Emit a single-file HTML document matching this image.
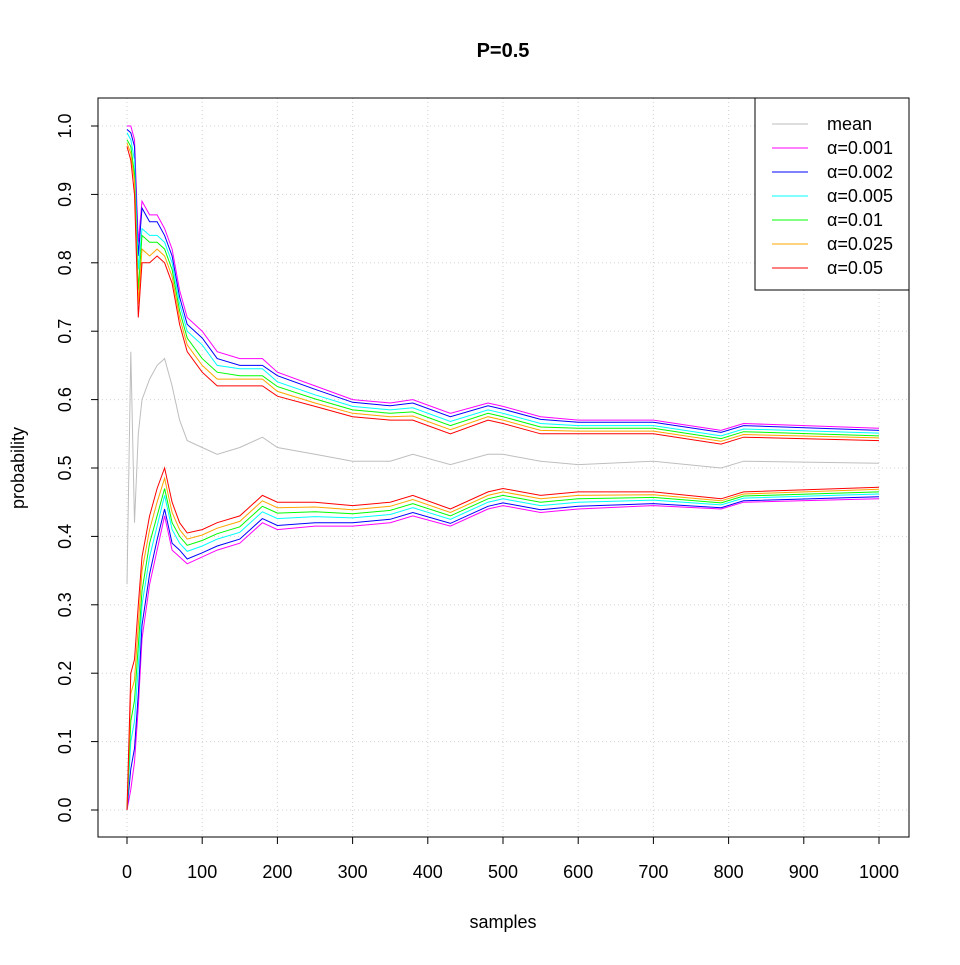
<!DOCTYPE html>
<html><head><meta charset="utf-8"><style>
body{margin:0;background:#fff}
svg{font-family:"Liberation Sans",sans-serif}
</style></head><body>
<svg id="chart" width="960" height="960" viewBox="0 0 960 960" xmlns="http://www.w3.org/2000/svg">
<rect width="960" height="960" fill="#fff"/>
<text x="503" y="57" text-anchor="middle" font-size="20" font-weight="bold">P=0.5</text>
<g id="grid"></g>
<g id="series"></g>
<rect x="98" y="98" width="811" height="739" fill="none" stroke="#000" stroke-width="1"/>
<g id="axes"></g>
<text x="503" y="928" text-anchor="middle" font-size="18">samples</text>
<text transform="translate(24,468) rotate(-90)" text-anchor="middle" font-size="18">probability</text>
<g id="legend"></g>
</svg>
<script>
const xTicks=[0,100,200,300,400,500,600,700,800,900,1000];
const yTicks=[0.0,0.1,0.2,0.3,0.4,0.5,0.6,0.7,0.8,0.9,1.0];
const yTickLabels=["0.0","0.1","0.2","0.3","0.4","0.5","0.6","0.7","0.8","0.9","1.0"];
const samples=[0,5,10,15,20,30,40,50,60,70,80,100,120,150,180,200,250,300,350,380,430,480,500,550,600,700,790,820,1000];
const meanVals=[0.33,0.67,0.42,0.55,0.6,0.63,0.65,0.66,0.62,0.57,0.54,0.53,0.52,0.53,0.545,0.53,0.52,0.51,0.51,0.52,0.505,0.52,0.52,0.51,0.505,0.51,0.50,0.51,0.507];
const labels=["α=0.001","α=0.002","α=0.005","α=0.01","α=0.025","α=0.05"];
const colors=["#ff00ff","#0000ff","#00ffff","#00ff00","#ffa500","#ff0000"];
const up001=[1.0,1.0,0.98,0.83,0.89,0.87,0.87,0.85,0.82,0.76,0.72,0.70,0.67,0.66,0.66,0.64,0.62,0.60,0.595,0.60,0.58,0.595,0.59,0.575,0.57,0.57,0.555,0.565,0.558];
const up002=[0.995,0.99,0.97,0.81,0.88,0.86,0.86,0.84,0.81,0.75,0.71,0.69,0.66,0.65,0.65,0.635,0.615,0.596,0.591,0.595,0.575,0.591,0.586,0.571,0.567,0.567,0.552,0.562,0.555];
const up005=[0.99,0.98,0.95,0.79,0.85,0.84,0.84,0.83,0.80,0.74,0.70,0.68,0.65,0.645,0.645,0.626,0.607,0.59,0.585,0.588,0.568,0.585,0.58,0.565,0.562,0.562,0.547,0.557,0.551];
const up01=[0.98,0.97,0.93,0.76,0.84,0.83,0.83,0.82,0.79,0.73,0.69,0.66,0.64,0.635,0.635,0.619,0.601,0.585,0.58,0.582,0.562,0.58,0.575,0.56,0.558,0.558,0.543,0.553,0.547];
const up025=[0.975,0.96,0.92,0.74,0.82,0.81,0.82,0.81,0.78,0.72,0.68,0.65,0.63,0.63,0.63,0.612,0.595,0.58,0.575,0.576,0.556,0.575,0.57,0.555,0.554,0.554,0.539,0.549,0.544];
const up05=[0.97,0.95,0.90,0.72,0.80,0.80,0.81,0.80,0.77,0.71,0.67,0.64,0.62,0.62,0.62,0.605,0.59,0.575,0.57,0.57,0.55,0.57,0.565,0.55,0.55,0.55,0.535,0.545,0.54];
const lo001=[0.0,0.03,0.07,0.15,0.25,0.33,0.38,0.43,0.38,0.37,0.36,0.37,0.38,0.39,0.42,0.41,0.415,0.415,0.42,0.43,0.415,0.44,0.445,0.435,0.44,0.445,0.44,0.45,0.455];
const lo002=[0,0.06,0.09,0.17,0.27,0.345,0.395,0.44,0.39,0.38,0.367,0.376,0.386,0.396,0.426,0.416,0.42,0.42,0.425,0.435,0.419,0.444,0.449,0.439,0.444,0.448,0.442,0.452,0.458];
const lo005=[0,0.1,0.13,0.21,0.3,0.37,0.415,0.46,0.41,0.39,0.378,0.386,0.396,0.406,0.436,0.426,0.429,0.427,0.432,0.442,0.425,0.45,0.455,0.445,0.45,0.453,0.446,0.456,0.462];
const lo01=[0,0.13,0.16,0.24,0.32,0.39,0.43,0.47,0.42,0.40,0.387,0.394,0.404,0.414,0.444,0.434,0.436,0.433,0.438,0.448,0.43,0.455,0.46,0.45,0.455,0.457,0.449,0.459,0.465];
const lo025=[0,0.17,0.19,0.27,0.35,0.41,0.45,0.485,0.435,0.41,0.396,0.402,0.412,0.422,0.452,0.442,0.443,0.439,0.444,0.454,0.435,0.46,0.465,0.455,0.46,0.461,0.452,0.462,0.469];
const lo05=[0.0,0.2,0.22,0.3,0.37,0.43,0.47,0.5,0.45,0.42,0.405,0.41,0.42,0.43,0.46,0.45,0.45,0.445,0.45,0.46,0.44,0.465,0.47,0.46,0.465,0.465,0.455,0.465,0.472];
const uppers=[up001,up002,up005,up01,up025,up05];
const lowers=[lo001,lo002,lo005,lo01,lo025,lo05];

const NS="http://www.w3.org/2000/svg";
const xs=v=>127+v*0.752;
const ys=v=>810-v*684;
function mk(tag,attrs,parent){const e=document.createElementNS(NS,tag);for(const k in attrs)e.setAttribute(k,attrs[k]);parent.appendChild(e);return e;}
const grid=document.getElementById('grid'),axes=document.getElementById('axes'),series=document.getElementById('series'),legend=document.getElementById('legend');
xTicks.forEach(t=>{
  const g=mk('line',{x1:xs(t),x2:xs(t),y1:98,y2:837,stroke:'#d3d3d3','stroke-dasharray':'1,3'},grid);
  
  
  const tk=mk('line',{x1:xs(t),x2:xs(t),y1:837,y2:844,stroke:'#000'},axes);
  
  
  const tx=mk('text',{x:xs(t),y:878,'text-anchor':'middle','font-size':18},axes);
  tx.textContent=t;
  
  
});
yTicks.forEach((t,i)=>{
  const g=mk('line',{x1:98,x2:909,y1:ys(t),y2:ys(t),stroke:'#d3d3d3','stroke-dasharray':'1,3'},grid);
  
  
  const tk=mk('line',{x1:91,x2:98,y1:ys(t),y2:ys(t),stroke:'#000'},axes);
  
  
  const tx=mk('text',{transform:`translate(71,${ys(t)}) rotate(-90)`,'text-anchor':'middle','font-size':18},axes);
  tx.textContent=yTickLabels[i];
  
  
});
function line(vals,color,name){
  const d=vals.map((v,i)=>(i?'L':'M')+xs(samples[i]).toFixed(1)+','+ys(v).toFixed(1)).join('');
  const p=mk('path',{d:d,fill:'none',stroke:color,'stroke-width':1},series);
  
  
}
line(meanVals,'#bebebe','mean-line');
uppers.forEach((u,i)=>{line(u,colors[i],'upper-bound-line');line(lowers[i],colors[i],'lower-bound-line');});
const lb=mk('rect',{x:755,y:98,width:154,height:192,fill:'#fff',stroke:'#000'},legend);


const names=['mean'].concat(labels),cols=['#bebebe'].concat(colors);
names.forEach((n,i)=>{
  const y=124+i*24;
  const l=mk('line',{x1:772,x2:808,y1:y,y2:y,stroke:cols[i]},legend);
  
  
  const t=mk('text',{x:827,y:y+6,'font-size':18},legend);
  t.textContent=n;
  
  
});
</script>
</body></html>
